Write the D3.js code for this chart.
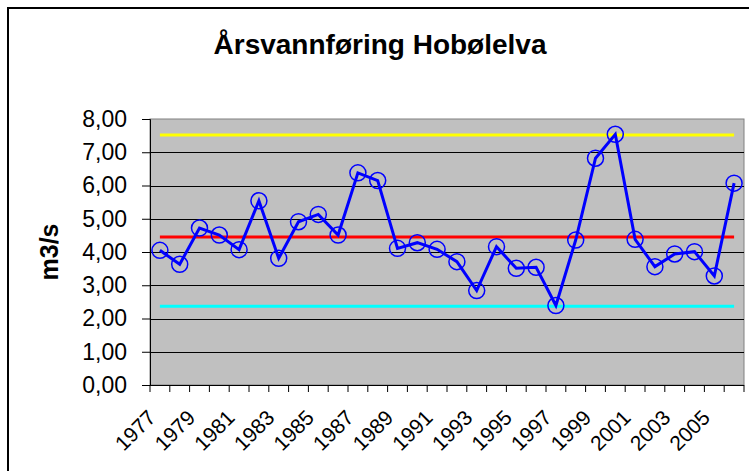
<!DOCTYPE html>
<html>
<head>
<meta charset="utf-8">
<script src="https://cdn.jsdelivr.net/npm/d3@7"></script>
<style>
  body { margin: 0; background: #fff; }
  text { font-family: Arial, "Liberation Sans", sans-serif; }
</style>
</head>
<body>
<script>
// data
const years = d3.range(1977, 2007).map(String);
const flow = [4.05, 3.63, 4.72, 4.51, 4.07, 5.54, 3.81, 4.91, 5.13, 4.51,
              6.38, 6.15, 4.11, 4.28, 4.08, 3.71, 2.84, 4.16, 3.51, 3.54,
              2.39, 4.36, 6.82, 7.54, 4.38, 3.56, 3.94, 4.01, 3.28, 6.07];
const refLines = [
  { value: 7.52, color: "#ffff00" },
  { value: 4.45, color: "#ff0000" },
  { value: 2.37, color: "#00ffff" }
];
const yTicks = [0, 1, 2, 3, 4, 5, 6, 7, 8];

const w = 749, h = 471;
const plotL = 150, plotR = 744, plotT = 119, plotB = 385;

const svg = d3.select("body").append("svg")
  .attr("width", w).attr("height", h);

// outer chart border
svg.append("rect")
  .attr("x", 8).attr("y", 8)
  .attr("width", w + 10).attr("height", h + 10)
  .attr("fill", "none").attr("stroke", "#000").attr("stroke-width", 2);

const x = d3.scaleBand().domain(years).range([plotL, plotR]);
const y = d3.scaleLinear().domain([0, 8]).range([plotB, plotT]);

// plot area
svg.append("rect")
  .attr("x", plotL).attr("y", plotT)
  .attr("width", plotR - plotL).attr("height", plotB - plotT)
  .attr("fill", "#c0c0c0").attr("stroke", "#808080").attr("stroke-width", 1);

// gridlines
svg.append("g").selectAll("line")
  .data(yTicks.slice(1, -1))
  .enter().append("line")
  .attr("x1", plotL).attr("x2", plotR)
  .attr("y1", d => Math.round(y(d)) + 0.5).attr("y2", d => Math.round(y(d)) + 0.5)
  .attr("stroke", "#000").attr("stroke-width", 1);

// y axis
const yAxis = d3.axisLeft(y).tickValues(yTicks).tickSize(8).tickPadding(15)
  .tickFormat(d => d3.format(".2f")(d).replace(".", ","));
const gy = svg.append("g").attr("transform", "translate(" + plotL + ",0)").call(yAxis);
gy.attr("font-family", null).attr("font-size", null);
gy.select(".domain").attr("stroke", "#000");
gy.selectAll("text").attr("font-size", 23).attr("fill", "#000");

// x axis
const gx = svg.append("g");
gx.append("line").attr("x1", plotL).attr("x2", plotR)
  .attr("y1", plotB + 0.5).attr("y2", plotB + 0.5).attr("stroke", "#000");
gx.selectAll("line.tick")
  .data(years.concat(["end"]))
  .enter().append("line")
  .attr("class", "tick")
  .attr("x1", d => d === "end" ? plotR : x(d))
  .attr("x2", d => d === "end" ? plotR : x(d))
  .attr("y1", plotB).attr("y2", plotB + 7)
  .attr("stroke", "#000");
gx.selectAll("text")
  .data(years.filter((d, i) => i % 2 === 0))
  .enter().append("text")
  .attr("transform", d => "translate(" + (x(d) + x.bandwidth() / 2 - 3) + "," + (plotB + 34) + ") rotate(-45)")
  .attr("text-anchor", "end")
  .attr("font-size", 21)
  .text(d => d);

// reference lines
svg.append("g").selectAll("line")
  .data(refLines)
  .enter().append("line")
  .attr("x1", x(years[0]) + x.bandwidth() / 2)
  .attr("x2", x(years[years.length - 1]) + x.bandwidth() / 2)
  .attr("y1", d => y(d.value)).attr("y2", d => y(d.value))
  .attr("stroke", d => d.color).attr("stroke-width", 3);

// series
const line = d3.line()
  .x((d, i) => x(years[i]) + x.bandwidth() / 2)
  .y(d => y(d));
svg.append("path").datum(flow)
  .attr("d", line)
  .attr("fill", "none").attr("stroke", "#0000ff").attr("stroke-width", 3);
svg.append("g").selectAll("circle")
  .data(flow)
  .enter().append("circle")
  .attr("cx", (d, i) => x(years[i]) + x.bandwidth() / 2)
  .attr("cy", d => y(d))
  .attr("r", 8)
  .attr("fill", "none").attr("stroke", "#0000ff").attr("stroke-width", 1.5);

// titles
svg.append("text")
  .attr("x", 380).attr("y", 54)
  .attr("text-anchor", "middle")
  .attr("font-size", 28).attr("font-weight", "bold")
  .text("Årsvannføring Hobølelva");

svg.append("text")
  .attr("transform", "translate(58," + ((plotT + plotB) / 2) + ") rotate(-90)")
  .attr("text-anchor", "middle")
  .attr("font-size", 25).attr("font-weight", "bold")
  .text("m3/s");
</script>
</body>
</html>
